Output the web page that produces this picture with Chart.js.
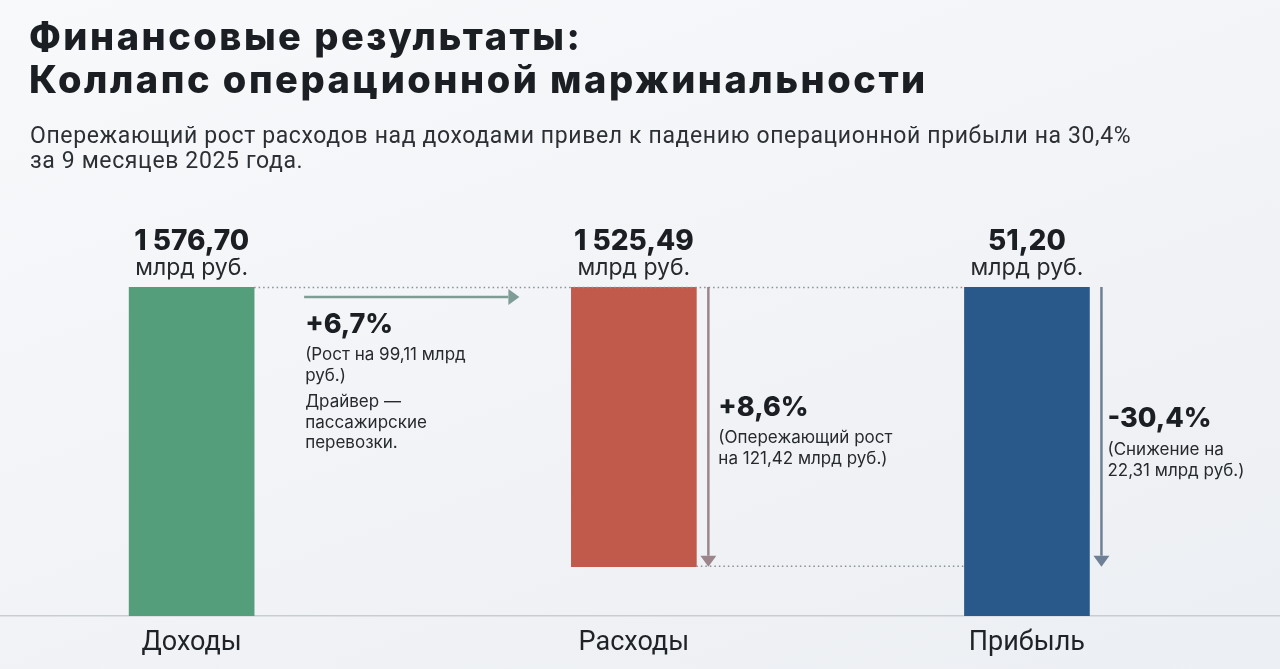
<!DOCTYPE html>
<html lang="ru">
<head>
<meta charset="utf-8">
<title>Финансовые результаты</title>
<script src="https://cdn.jsdelivr.net/npm/chart.js@4"></script>
<style>
    html, body {
        margin: 0;
        padding: 0;
        width: 1280px;
        height: 669px;
        overflow: hidden;
        background: linear-gradient(160deg, #f8f9fb 0%, #f1f3f6 55%, #eceff3 100%);
        font-family: Inter, 'Noto Sans', sans-serif;
        color: #1b1e22;
    }
    #header {
        position: absolute;
        left: 29px;
        top: 15px;
        z-index: 2;
    }
    #header h1 {
        margin: 0;
        font-size: 38px;
        line-height: 43px;
        font-weight: 800;
        letter-spacing: 2.5px;
        color: #1b1e22;
    }
    #header p {
        margin: 22px 0 0 1px;
        font-family: Roboto, sans-serif;
        font-size: 23px;
        line-height: 25px;
        letter-spacing: 0.63px;
        color: #2c3035;
    }
    #chart {
        position: absolute;
        left: 0;
        top: 0;
    }
</style>
</head>
<body>
<div id="header">
    <h1>Финансовые результаты:<br>Коллапс операционной маржинальности</h1>
    <p>Опережающий рост расходов над доходами привел к падению операционной прибыли на 30,4%<br>за 9 месяцев 2025 года.</p>
</div>
<canvas id="chart" width="1280" height="669"></canvas>

<script>
'use strict';

//
// Data
//

const categories = ['Доходы', 'Расходы', 'Прибыль'];
const totals = [1576.70, 1525.49, 51.20];          // млрд руб.
const unitLabel = 'млрд руб.';

// the bars are stylized, not to scale: spans in relative height (0..100)
const barBottom = [0, 15, 0];
const barTop = [100, 100, 100];

const changePct = ['+6,7%', '+8,6%', '-30,4%'];
const changeNotes = [
    ['(Рост на 99,11 млрд', 'руб.)', 'Драйвер —', 'пассажирские', 'перевозки.'],
    ['(Опережающий рост', 'на 121,42 млрд руб.)'],
    ['(Снижение на', '22,31 млрд руб.)']
];

const barColors = ['#549e7c', '#c25a4b', '#29598a'];
const arrowColors = ['#7f9c95', '#9c868c', '#6f8096'];

// slots on the x axis: bars are not evenly spaced
const categorySlots = [0, 9, 17];


//
// Helpers
//

function formatTotal(v) {
    return v.toLocaleString('ru-RU', { minimumFractionDigits: 2, maximumFractionDigits: 2 });
}

function drawArrow(ctx, x1, y1, x2, y2, color) {
    const head = 11;
    const angle = Math.atan2(y2 - y1, x2 - x1);
    ctx.save();
    ctx.strokeStyle = color;
    ctx.fillStyle = color;
    ctx.lineWidth = 2.5;
    ctx.beginPath();
    ctx.moveTo(x1, y1);
    ctx.lineTo(x2 - Math.cos(angle) * head, y2 - Math.sin(angle) * head);
    ctx.stroke();
    ctx.beginPath();
    ctx.moveTo(x2, y2);
    ctx.lineTo(x2 - head * Math.cos(angle) + 8 * Math.sin(angle), y2 - head * Math.sin(angle) - 8 * Math.cos(angle));
    ctx.lineTo(x2 - head * Math.cos(angle) - 8 * Math.sin(angle), y2 - head * Math.sin(angle) + 8 * Math.cos(angle));
    ctx.closePath();
    ctx.fill();
    ctx.restore();
}

function drawDotted(ctx, x1, y1, x2, y2) {
    ctx.save();
    ctx.strokeStyle = '#8a9096';
    ctx.lineWidth = 1.5;
    ctx.setLineDash([1.5, 3]);
    ctx.beginPath();
    ctx.moveTo(x1, y1);
    ctx.lineTo(x2, y2);
    ctx.stroke();
    ctx.restore();
}

function drawNote(ctx, x, y, idx, gap) {
    ctx.save();
    ctx.textAlign = 'left';
    ctx.textBaseline = 'middle';
    ctx.fillStyle = '#1b1e22';
    ctx.font = '800 27px Inter';
    ctx.fillText(changePct[idx], x, y);
    ctx.font = '400 17px Inter';
    ctx.fillStyle = '#26292d';
    let ly = y + gap;
    changeNotes[idx].forEach((line, i) => {
        // the first two lines of the first note are one sentence
        if (idx === 0 && i === 2) ly += 6;
        ctx.fillText(line, x, ly);
        ly += 20.5;
    });
    ctx.restore();
}


//
// Annotations plugin: values above bars, arrows, dotted guides
//

const annotationsPlugin = {
    id: 'annotations',
    afterDatasetsDraw(chart) {
        const ctx = chart.ctx;
        const bars = chart.getDatasetMeta(0).data;
        const box = bars.map(b => ({
            left: b.x - b.width / 2,
            right: b.x + b.width / 2,
            top: Math.min(b.y, b.base),
            bottom: Math.max(b.y, b.base),
            x: b.x
        }));

        // value labels
        ctx.save();
        ctx.textAlign = 'center';
        ctx.textBaseline = 'middle';
        box.forEach((b, i) => {
            ctx.fillStyle = '#1b1e22';
            ctx.font = '800 28px Inter';
            ctx.fillText(formatTotal(totals[i]), b.x, b.top - 45);
            ctx.font = '400 23px Inter';
            ctx.fillStyle = '#26292d';
            ctx.fillText(unitLabel, b.x, b.top - 19);
        });
        ctx.restore();

        // dotted guides
        drawDotted(ctx, box[0].right, box[0].top + 0.5, box[2].left, box[0].top + 0.5);
        drawDotted(ctx, box[1].right, box[1].bottom - 0.5, box[2].left, box[1].bottom - 0.5);

        // arrows
        drawArrow(ctx, box[0].right + 50, box[0].top + 10, box[1].left - 52, box[0].top + 10, arrowColors[0]);
        drawArrow(ctx, box[1].right + 12, box[1].top, box[1].right + 12, box[1].bottom, arrowColors[1]);
        drawArrow(ctx, box[2].right + 12, box[2].top, box[2].right + 12, box[1].bottom, arrowColors[2]);

        // change notes
        drawNote(ctx, box[0].right + 51, box[0].top + 38, 0, 30);
        drawNote(ctx, box[1].right + 22, box[1].top + 121, 1, 30);
        drawNote(ctx, box[2].right + 18, box[2].top + 132, 2, 31);
    }
};


//
// Chart
//

const barData = categories.map((c, i) => ({ x: categorySlots[i], y: [barBottom[i], barTop[i]] }));

new Chart(document.getElementById('chart').getContext('2d'), {
    type: 'bar',
    data: {
        datasets: [{
            data: barData,
            backgroundColor: barColors,
            borderWidth: 0,
            borderSkipped: false,
            barThickness: 125
        }]
    },
    options: {
        responsive: false,
        animation: false,
        events: [],
        layout: { padding: { top: 287, left: 0, right: 0, bottom: 0 } },
        plugins: {
            legend: { display: false },
            tooltip: { enabled: false }
        },
        scales: {
            x: {
                type: 'linear',
                offset: false,
                min: -3.9,
                max: 22.15,
                grid: { display: false },
                border: { display: true, color: '#c9cdd2', width: 1.5 },
                afterBuildTicks: (scale) => {
                    scale.ticks = categorySlots.map(v => ({ value: v }));
                },
                afterFit: (scale) => {
                    scale.height = 53;
                },
                ticks: {
                    autoSkip: false,
                    maxRotation: 0,
                    padding: 3,
                    color: '#1f2226',
                    font: { family: 'Roboto', size: 27 },
                    callback: (value) => categories[categorySlots.indexOf(value)]
                }
            },
            y: {
                display: false,
                min: 0,
                max: 100
            }
        }
    },
    plugins: [annotationsPlugin]
});
</script>
</body>
</html>
